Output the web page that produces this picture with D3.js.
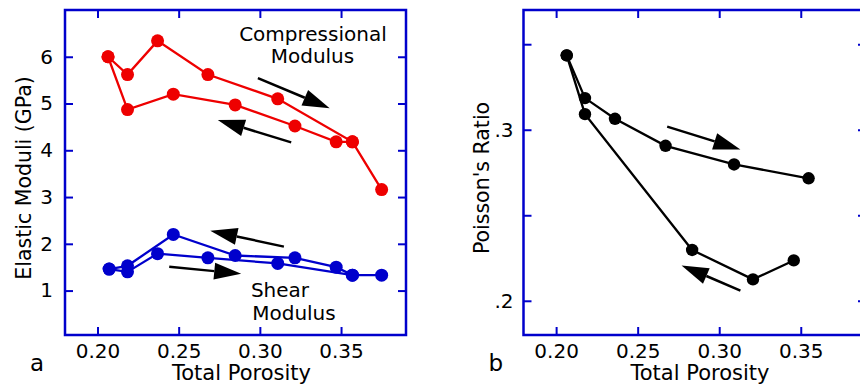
<!DOCTYPE html>
<html>
<head>
<meta charset="utf-8">
<script src="https://cdn.jsdelivr.net/npm/d3@7"></script>
<style>
  body { margin: 0; background: #fff; }
  text { font-family: "DejaVu Sans", sans-serif; fill: #000; }
</style>
</head>
<body>
<div id="chart"></div>
<script>
const FRAME_WIDTH = 860;
const FRAME_HEIGHT = 386;

const AXIS_COLOR = "#0000cc";
const RED = "#ee0000";
const BLUE = "#0000cc";
const BLACK = "#000000";

// panel a - compressional modulus (loading, going right)
const COMP_UP_X = [0.2065, 0.2185, 0.237, 0.268, 0.311, 0.357, 0.375];
const COMP_UP_Y = [6.0, 5.62, 6.34, 5.62, 5.10, 4.18, 3.16];
// compressional modulus (unloading, going left)
const COMP_DOWN_X = [0.357, 0.347, 0.3216, 0.2848, 0.2467, 0.2185, 0.2065];
const COMP_DOWN_Y = [4.18, 4.18, 4.52, 4.97, 5.20, 4.87, 6.0];

// shear modulus
const SHEAR_UP_X = [0.2072, 0.2185, 0.237, 0.268, 0.311, 0.357, 0.375];
const SHEAR_UP_Y = [1.46, 1.40, 1.79, 1.70, 1.58, 1.33, 1.33];
const SHEAR_DOWN_X = [0.357, 0.347, 0.3216, 0.2848, 0.2467, 0.2185, 0.2072];
const SHEAR_DOWN_Y = [1.33, 1.50, 1.70, 1.75, 2.20, 1.53, 1.46];

// panel b - poisson's ratio
const POIS_UP_X = [0.2065, 0.2177, 0.2361, 0.2671, 0.3091, 0.3548];
const POIS_UP_Y = [0.3435, 0.3185, 0.3064, 0.2906, 0.2797, 0.2716];
const POIS_DOWN_X = [0.3457, 0.3207, 0.2834, 0.2177, 0.2065];
const POIS_DOWN_Y = [0.2236, 0.2125, 0.2297, 0.3091, 0.3435];

// tick values and labels
const X_TICKS = [0.20, 0.25, 0.30, 0.35];
const X_TICK_LABELS = ["0.20", "0.25", "0.30", "0.35"];
const MOD_TICKS = [1, 2, 3, 4, 5, 6];
const MOD_TICK_LABELS = ["1", "2", "3", "4", "5", "6"];
const POIS_TICKS = [0.20, 0.25, 0.30, 0.35];
const POIS_TICK_LABELS = [".2", "", ".3", ""];

// arrows [x0, y0, x1, y1] in data units
const ARROWS_A = [
  [0.2988, 5.545, 0.343, 4.90],
  [0.3193, 4.17, 0.2741, 4.65],
  [0.3148, 1.94, 0.2695, 2.28],
  [0.2442, 1.51, 0.2885, 1.36]
];
const ARROWS_B = [
  [0.2681, 0.3018, 0.3130, 0.2885],
  [0.3130, 0.206, 0.2769, 0.2207]
];

// curve labels (data units)
const LABELS = [
  { text: "Compressional", x: 0.3327, y: 6.34 },
  { text: "Modulus", x: 0.3324, y: 5.86 },
  { text: "Shear", x: 0.3124, y: 0.87 },
  { text: "Modulus", x: 0.3210, y: 0.37 }
];

const SVG = d3.select("#chart")
  .append("svg")
    .attr("width", FRAME_WIDTH)
    .attr("height", FRAME_HEIGHT);

function zip(xs, ys) {
  return xs.map((x, i) => [x, ys[i]]);
}

function drawPanel(opt) {
  const x = d3.scaleLinear().domain([0.18, 0.39]).range([opt.left, opt.right]);
  const y = d3.scaleLinear().domain(opt.yDomain).range([335, 10]);
  const g = SVG.append("g");

  // ticks on all four sides, pointing in
  const xLabel = d3.scaleOrdinal().domain(X_TICKS).range(X_TICK_LABELS);
  const yLabel = d3.scaleOrdinal().domain(opt.yTicks).range(opt.yTickLabels);

  const axes = [
    d3.axisBottom(x).tickValues(X_TICKS).tickSize(-8).tickPadding(9).tickFormat((d) => xLabel(d)),
    d3.axisTop(x).tickValues(X_TICKS).tickSize(-8).tickFormat(""),
    d3.axisLeft(y).tickValues(opt.yTicks).tickSize(-8).tickPadding(opt.yPad).tickFormat((d) => yLabel(d)),
    d3.axisRight(y).tickValues(opt.yTicks).tickSize(-8).tickFormat("")
  ];
  const trans = [
    "translate(0," + 335 + ")",
    "translate(0," + 10 + ")",
    "translate(" + opt.left + ",0)",
    "translate(" + opt.right + ",0)"
  ];
  axes.forEach((ax, i) => {
    const a = g.append("g")
      .attr("transform", trans[i])
      .call(ax);
    a.select(".domain").remove();
    a.selectAll("line").attr("stroke", AXIS_COLOR).attr("stroke-width", 2);
    a.selectAll("text")
      .attr("font-size", "20px")
      .attr("font-family", "DejaVu Sans, sans-serif")
      .attr("fill", "#000");
  });

  g.append("rect")
    .attr("x", opt.left)
    .attr("y", 10)
    .attr("width", opt.right - opt.left)
    .attr("height", 325)
    .attr("fill", "none")
    .attr("stroke", AXIS_COLOR)
    .attr("stroke-width", 2.5);

  const line = d3.line().x((d) => x(d[0])).y((d) => y(d[1]));

  opt.series.forEach((s) => {
    const pts = zip(s.xs, s.ys);
    g.append("path")
      .datum(pts)
      .attr("d", line)
      .attr("fill", "none")
      .attr("stroke", s.color)
      .attr("stroke-width", 2.3);
    g.selectAll(null)
      .data(pts)
      .enter()
      .append("circle")
        .attr("cx", (d) => x(d[0]))
        .attr("cy", (d) => y(d[1]))
        .attr("r", opt.r)
        .attr("fill", s.color);
  });

  // arrows
  opt.arrows.forEach((a) => {
    const x0 = x(a[0]), y0 = y(a[1]), x1 = x(a[2]), y1 = y(a[3]);
    const ang = Math.atan2(y1 - y0, x1 - x0);
    const hl = 27, hw = 8.5;
    const bx = x1 - hl * Math.cos(ang), by = y1 - hl * Math.sin(ang);
    g.append("line")
      .attr("x1", x0).attr("y1", y0)
      .attr("x2", bx).attr("y2", by)
      .attr("stroke", BLACK)
      .attr("stroke-width", 2.5);
    g.append("polygon")
      .attr("points", [
        [x1, y1],
        [bx + hw * Math.sin(ang), by - hw * Math.cos(ang)],
        [bx - hw * Math.sin(ang), by + hw * Math.cos(ang)]
      ].map((p) => p.join(",")).join(" "))
      .attr("fill", BLACK);
  });

  // axis titles
  g.append("text")
    .attr("x", opt.xTitleX)
    .attr("y", 380)
    .attr("text-anchor", "middle")
    .attr("font-size", "21px")
    .text("Total Porosity");

  g.append("text")
    .attr("transform", "translate(" + opt.yTitleX + "," + 178 + ") rotate(-90)")
    .attr("text-anchor", "middle")
    .attr("font-size", "20.5px")
    .text(opt.yTitle);

  g.append("text")
    .attr("x", opt.left - 35)
    .attr("y", 371)
    .attr("font-size", "23px")
    .text(opt.letter);

  return { x: x, y: y, g: g };
}

const PANEL_A = drawPanel({
  left: 65, right: 406,
  yDomain: [0.05, 7],
  yTicks: MOD_TICKS, yTickLabels: MOD_TICK_LABELS, yPad: 12,
  yTitle: "Elastic Moduli (GPa)", yTitleX: 31,
  xTitleX: 241.5,
  letter: "a",
  r: 6.5,
  series: [
    { xs: COMP_UP_X, ys: COMP_UP_Y, color: RED },
    { xs: COMP_DOWN_X, ys: COMP_DOWN_Y, color: RED },
    { xs: SHEAR_UP_X, ys: SHEAR_UP_Y, color: BLUE },
    { xs: SHEAR_DOWN_X, ys: SHEAR_DOWN_Y, color: BLUE }
  ],
  arrows: ARROWS_A
});

const PANEL_B = drawPanel({
  left: 523.5, right: 866,
  yDomain: [0.18, 0.37],
  yTicks: POIS_TICKS, yTickLabels: POIS_TICK_LABELS, yPad: 10,
  yTitle: "Poisson's Ratio", yTitleX: 489,
  xTitleX: 700,
  letter: "b",
  r: 6.2,
  series: [
    { xs: POIS_UP_X, ys: POIS_UP_Y, color: BLACK },
    { xs: POIS_DOWN_X, ys: POIS_DOWN_Y, color: BLACK }
  ],
  arrows: ARROWS_B
});

PANEL_A.g.selectAll(null)
  .data(LABELS)
  .enter()
  .append("text")
    .attr("x", (d) => PANEL_A.x(d.x))
    .attr("y", (d) => PANEL_A.y(d.y))
    .attr("text-anchor", "middle")
    .attr("font-size", "20px")
    .text((d) => d.text);
</script>
</body>
</html>
